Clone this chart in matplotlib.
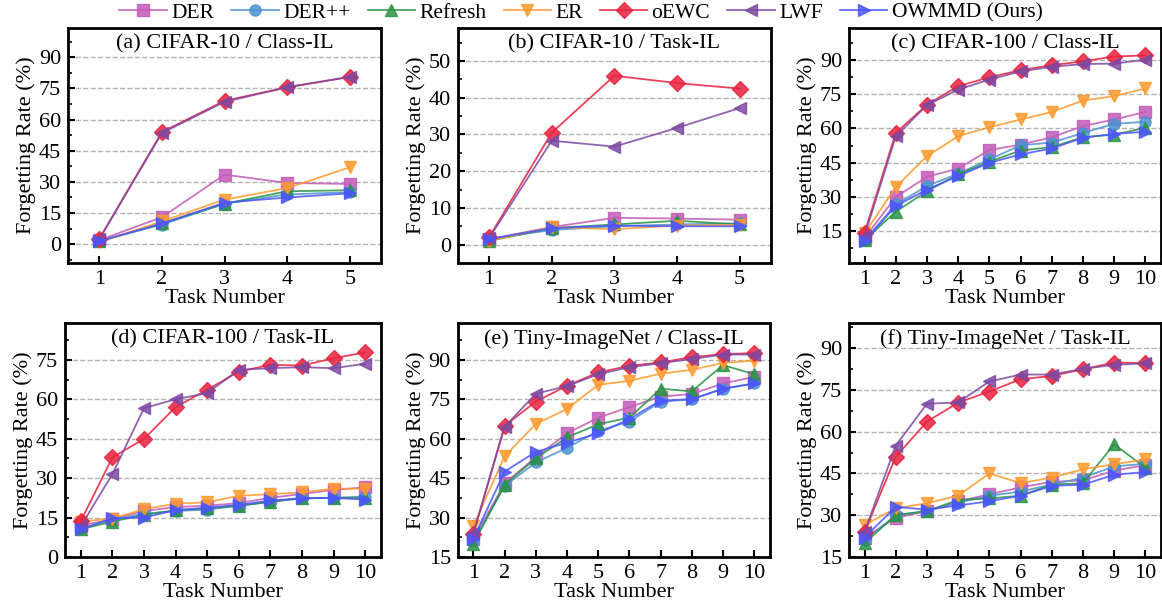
import matplotlib
matplotlib.use("Agg")
import matplotlib.pyplot as plt
from matplotlib.ticker import MultipleLocator

plt.rcParams['font.family'] = ['Liberation Serif', 'DejaVu Serif']
plt.rcParams['font.size'] = 16

methods = ["DER", "DER++", "Refresh", "ER", "oEWC", "LWF", "OWMMD (Ours)"]
colors = ["#C25BB8", "#4A92D2", "#2A9244", "#FF9A2E", "#E8213E", "#7E48A2", "#4C55FF"]
markers = ["s", "o", "^", "v", "D", "<", ">"]

tasks5 = [1, 2, 3, 4, 5]
tasks10 = [1, 2, 3, 4, 5, 6, 7, 8, 9, 10]

# (a) CIFAR-10 / Class-IL
a_der = [2, 13, 33.5, 29.5, 29]
a_derpp = [1.5, 9.5, 19.5, 24, 25]
a_refresh = [1.5, 10, 19.5, 25.5, 26]
a_er = [1, 11, 21.5, 27, 37]
a_oewc = [2.5, 54, 69, 75.5, 80.5]
a_lwf = [2.5, 53.5, 68.5, 75.5, 80.5]
a_owmmd = [1.5, 10, 20, 22.5, 24.5]

# (b) CIFAR-10 / Task-IL
b_der = [1.5, 4.8, 7.3, 7.1, 6.8]
b_derpp = [1.5, 4, 5, 5.5, 5.8]
b_refresh = [1, 4.5, 5.5, 6.5, 5.5]
b_er = [1, 4.8, 4.2, 5.2, 5.4]
b_oewc = [2, 30.5, 46, 44, 42.5]
b_lwf = [1.8, 28.3, 26.7, 31.8, 37.2]
b_owmmd = [1.5, 4.5, 5.2, 5, 5]

# (c) CIFAR-100 / Class-IL
c_der = [12, 29.9, 38.8, 42.4, 50.5, 52.9, 56.1, 61, 63.9, 67.2]
c_derpp = [11, 26.7, 34.7, 40.2, 46.4, 52.6, 53.8, 58, 62, 62.9]
c_refresh = [11, 23.5, 32.5, 39.8, 45.4, 50.3, 51.8, 56.1, 57.3, 60.2]
c_er = [14, 34.3, 47.8, 56.6, 60.5, 63.9, 67.2, 72.2, 74.1, 77.5]
c_oewc = [14.3, 58, 70.4, 78.5, 82.4, 85.5, 87.7, 89.4, 91.5, 92]
c_lwf = [13, 56.5, 70.2, 77, 81.4, 85, 87, 88.2, 88.4, 90.1]
c_owmmd = [10.5, 26, 33.2, 39.1, 44.9, 48.6, 51.2, 55.9, 57.6, 58.5]

# (d) CIFAR-100 / Task-IL
d_der = [12, 14.3, 17.5, 19, 19.5, 20.5, 22.5, 24, 25.5, 26.5]
d_derpp = [11, 14, 16.5, 17.5, 18, 19.5, 21, 22.5, 22.5, 23]
d_refresh = [10.5, 13.5, 16, 17.8, 18.5, 19.5, 21, 22.3, 22.5, 22.5]
d_er = [13.5, 14.6, 18.2, 20.3, 20.8, 23.3, 23.9, 24.6, 26, 26]
d_oewc = [13.6, 37.9, 44.9, 57, 63.6, 70.5, 73.1, 72.8, 75.6, 77.8]
d_lwf = [11.7, 31.5, 56.6, 60, 62.3, 71.2, 71.8, 72.2, 71.8, 73.5]
d_owmmd = [10.5, 14.8, 15, 17.8, 18.8, 19.8, 21.5, 22.3, 22.5, 21.8]

# (e) Tiny-ImageNet / Class-IL
e_der = [22, 43, 53, 62, 68, 72, 76, 77, 81, 83.5]
e_derpp = [21, 42, 51, 56.5, 63, 66.5, 74, 75, 79, 81]
e_refresh = [20, 42.5, 52.5, 60.5, 65.5, 68, 79, 78, 88, 84.5]
e_er = [26.9, 53.3, 65.6, 71.3, 80.5, 82, 84.7, 86.2, 88.8, 89.7]
e_oewc = [23.9, 64.9, 74.1, 80.1, 85.2, 87.7, 89, 91, 92.2, 92.5]
e_lwf = [24, 64.5, 77.1, 80, 84.5, 87.2, 88.7, 90.3, 92, 92]
e_owmmd = [22, 47.5, 55, 58.5, 62, 67.5, 74.5, 75, 79, 81]

# (f) Tiny-ImageNet / Task-IL
f_der = [22, 29, 31.5, 35, 37.5, 40, 42, 42.5, 46, 48]
f_derpp = [21, 30, 31.5, 34.5, 37, 38.5, 41, 43.5, 47.5, 48.5]
f_refresh = [20, 30, 31.5, 35.5, 36, 37, 41, 41.5, 55.5, 47]
f_er = [26.5, 32.5, 34.3, 37, 45, 41.5, 43.5, 46.5, 48.3, 50]
f_oewc = [24, 51, 63.6, 70.4, 74.4, 78.8, 80, 82.4, 84.8, 84.6]
f_lwf = [24, 55, 70, 70.5, 78, 80.5, 80.5, 82.5, 84, 84.5]
f_owmmd = [22, 33, 32, 33.5, 35, 37, 40.5, 41, 44.5, 45.5]

panels = [
    ("(a) CIFAR-10 / Class-IL", tasks5, [a_der, a_derpp, a_refresh, a_er, a_oewc, a_lwf, a_owmmd], (-9, 104), 15),
    ("(b) CIFAR-10 / Task-IL", tasks5, [b_der, b_derpp, b_refresh, b_er, b_oewc, b_lwf, b_owmmd], (-5, 59), 10),
    ("(c) CIFAR-100 / Class-IL", tasks10, [c_der, c_derpp, c_refresh, c_er, c_oewc, c_lwf, c_owmmd], (1, 104), 15),
    ("(d) CIFAR-100 / Task-IL", tasks10, [d_der, d_derpp, d_refresh, d_er, d_oewc, d_lwf, d_owmmd], (0, 89), 15),
    ("(e) Tiny-ImageNet / Class-IL", tasks10, [e_der, e_derpp, e_refresh, e_er, e_oewc, e_lwf, e_owmmd], (15, 104), 15),
    ("(f) Tiny-ImageNet / Task-IL", tasks10, [f_der, f_derpp, f_refresh, f_er, f_oewc, f_lwf, f_owmmd], (15, 99), 15),
]

# axes boxes in figure fractions
boxes = [
    [0.0585, 0.5624, 0.2695, 0.391],
    [0.394, 0.5624, 0.2695, 0.391],
    [0.7306, 0.5624, 0.2685, 0.391],
    [0.0559, 0.0732, 0.272, 0.3894],
    [0.394, 0.0732, 0.2685, 0.3894],
    [0.7306, 0.0732, 0.2685, 0.3894],
]

fig = plt.figure(figsize=(11.62, 6.01), dpi=100)

for (title, x, series, ylim, step), box in zip(panels, boxes):
    ax = fig.add_axes(box)
    for name, vals, c, m in zip(methods, series, colors, markers):
        ax.plot(x, vals, color=c, marker=m, markersize=8, linewidth=1.3,
                alpha=0.85, label=name)
    ax.set_ylim(*ylim)
    ax.set_xlim(x[0] - 0.5, x[-1] + 0.5)
    ax.set_xticks(x)
    ax.yaxis.set_major_locator(MultipleLocator(step))
    ax.yaxis.set_minor_locator(MultipleLocator(step / 2))
    ax.grid(axis='y', which='major', linestyle='--', color='#b5b5b5', linewidth=1)
    ax.tick_params(axis='both', which='major', direction='in', length=5, width=1.5,
                   labelsize=16, pad=5)
    ax.tick_params(axis='y', which='minor', direction='in', length=3, width=1.2)
    ax.tick_params(top=False, right=False)
    for s in ax.spines.values():
        s.set_linewidth(2)
    ax.set_xlabel("Task Number", fontsize=16, labelpad=0)
    ax.set_ylabel("Forgetting Rate (%)", fontsize=16, labelpad=2)
    ax.text(0.5, 0.975, title, transform=ax.transAxes, ha='center', va='top', fontsize=16)

handles, labels = fig.axes[0].get_legend_handles_labels()
fig.legend(handles, labels, loc='upper center', bbox_to_anchor=(0.5, 1.01), ncol=7,
           frameon=False, fontsize=15.5, handlelength=2.2, columnspacing=0.8,
           handletextpad=0.2, borderaxespad=0)

fig.savefig("out.png", dpi=100)
